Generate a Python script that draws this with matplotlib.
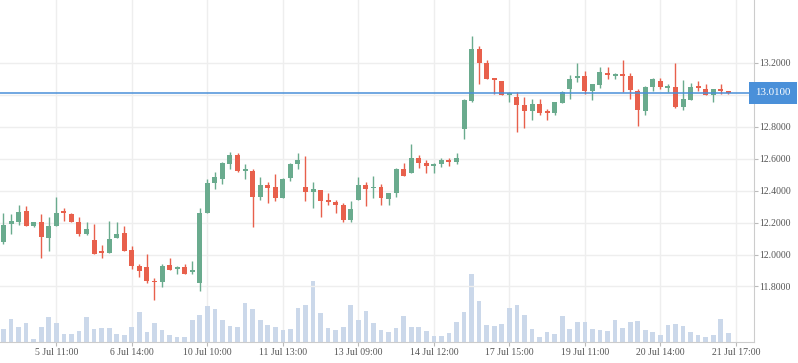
import numpy as np
import matplotlib
matplotlib.use("Agg")
import matplotlib.pyplot as plt

# OHLC values, one candle per entry
opens = [12.080, 12.193, 12.203, 12.272, 12.178, 12.203, 12.105, 12.180, 12.262, 12.253,
         12.203, 12.130, 12.090, 12.011, 12.009, 12.103, 12.134, 12.028, 11.928, 11.922,
         11.832, 11.830, 11.934, 11.910, 11.922, 11.893, 11.824, 12.261, 12.447, 12.472,
         12.566, 12.622, 12.525, 12.522, 12.359, 12.434, 12.422, 12.353, 12.478, 12.566,
         12.422, 12.391, 12.403, 12.334, 12.328, 12.309, 12.216, 12.341, 12.434, 12.414,
         12.422, 12.347, 12.384, 12.534, 12.509, 12.603, 12.572, 12.553, 12.566, 12.591,
         12.580, 12.784, 12.959, 13.284, 13.197, 13.097, 13.084, 12.997, 12.984, 12.934,
         12.897, 12.941, 12.886, 12.884, 12.947, 13.034, 13.103, 13.115, 13.022, 13.059,
         13.134, 13.118, 13.122, 13.116, 13.022, 12.897, 13.047, 13.084, 13.041, 13.047,
         12.922, 12.966, 13.053, 13.034, 12.997, 13.034, 13.022]
highs = [12.259, 12.253, 12.309, 12.303, 12.203, 12.253, 12.234, 12.359, 12.290, 12.259,
         12.234, 12.203, 12.190, 12.059, 12.209, 12.203, 12.178, 12.053, 11.940, 12.003,
         11.853, 11.940, 11.978, 11.928, 11.940, 11.959, 12.290, 12.472, 12.516, 12.578,
         12.641, 12.634, 12.566, 12.534, 12.484, 12.453, 12.503, 12.478, 12.572, 12.634,
         12.616, 12.453, 12.403, 12.384, 12.341, 12.322, 12.334, 12.484, 12.453, 12.491,
         12.441, 12.384, 12.541, 12.572, 12.691, 12.622, 12.591, 12.572, 12.603, 12.604,
         12.634, 12.972, 13.366, 13.303, 13.216, 13.103, 13.084, 13.015, 13.015, 12.984,
         12.972, 12.972, 12.909, 12.953, 13.022, 13.122, 13.197, 13.147, 13.066, 13.172,
         13.172, 13.134, 13.216, 13.134, 13.034, 13.053, 13.103, 13.103, 13.066, 13.197,
         13.091, 13.072, 13.084, 13.066, 13.034, 13.066, 13.025]
lows = [12.063, 12.130, 12.186, 12.180, 12.172, 11.978, 12.022, 12.180, 12.209, 12.203,
        12.116, 12.124, 12.005, 11.978, 12.009, 12.103, 12.022, 11.909, 11.859, 11.822,
        11.715, 11.799, 11.905, 11.880, 11.880, 11.880, 11.774, 12.261, 12.409, 12.441,
        12.534, 12.516, 12.472, 12.172, 12.341, 12.322, 12.334, 12.353, 12.459, 12.534,
        12.334, 12.291, 12.234, 12.309, 12.259, 12.203, 12.203, 12.341, 12.303, 12.353,
        12.309, 12.309, 12.359, 12.491, 12.509, 12.541, 12.509, 12.509, 12.547, 12.556,
        12.566, 12.722, 12.953, 13.066, 13.097, 13.003, 12.997, 12.953, 12.765, 12.790,
        12.840, 12.872, 12.840, 12.872, 12.947, 12.972, 13.078, 13.003, 12.966, 13.041,
        13.097, 13.097, 13.016, 12.972, 12.803, 12.872, 13.022, 13.034, 13.016, 12.916,
        12.903, 12.966, 13.022, 12.997, 12.953, 13.003, 13.005]
closes = [12.184, 12.209, 12.265, 12.180, 12.203, 12.111, 12.178, 12.259, 12.258, 12.203,
          12.130, 12.159, 12.005, 12.009, 12.097, 12.128, 12.022, 11.930, 11.897, 11.834,
          11.826, 11.928, 11.905, 11.915, 11.880, 11.901, 12.259, 12.447, 12.484, 12.572,
          12.622, 12.522, 12.527, 12.359, 12.434, 12.416, 12.353, 12.472, 12.566, 12.591,
          12.391, 12.409, 12.334, 12.330, 12.309, 12.216, 12.284, 12.434, 12.409, 12.416,
          12.353, 12.384, 12.534, 12.491, 12.603, 12.572, 12.553, 12.566, 12.591, 12.578,
          12.603, 12.965, 13.284, 13.197, 13.097, 13.093, 12.997, 13.009, 12.934, 12.897,
          12.941, 12.884, 12.884, 12.953, 13.015, 13.097, 13.115, 13.022, 13.066, 13.141,
          13.122, 13.120, 13.118, 13.028, 12.903, 13.047, 13.097, 13.047, 13.053, 12.922,
          12.972, 13.047, 13.041, 12.997, 13.034, 13.022, 13.010]
volumes = [13, 23, 15, 19, 3, 15, 25, 19, 8, 8,
           11, 25, 13, 14, 14, 8, 7, 15, 30, 10,
           19, 12, 7, 5, 5, 22, 27, 36, 33, 22,
           16, 15, 39, 33, 22, 17, 15, 12, 13, 34,
           37, 61, 29, 14, 12, 15, 37, 22, 31, 19,
           12, 10, 14, 26, 15, 15, 11, 6, 6, 9,
           20, 30, 68, 41, 17, 16, 18, 34, 37, 27,
           13, 5, 10, 8, 26, 13, 20, 20, 13, 12,
           11, 22, 14, 20, 21, 12, 10, 7, 17, 18,
           16, 10, 7, 5, 7, 23, 9]

tick_pos = [7, 17, 27, 37, 47, 57, 67, 77, 87, 97]
tick_labels = ["5 Jul 11:00", "6 Jul 14:00", "10 Jul 10:00", "11 Jul 13:00", "13 Jul 09:00",
               "14 Jul 12:00", "17 Jul 15:00", "19 Jul 11:00", "20 Jul 14:00", "21 Jul 17:00"]
price_ticks = [11.8, 12.0, 12.2, 12.4, 12.6, 12.8, 13.2]
last_price = 13.01

GREEN = "#6aab8e"
RED = "#e8604c"
VOL = "#cbd8ea"
BLUE = "#4a90d9"
TXT = "#555555"
plt.rcParams["font.family"] = ["Liberation Serif", "DejaVu Serif"]

fig = plt.figure(figsize=(7.98, 3.63), dpi=100)
ax = fig.add_axes([0, 21 / 363, 754 / 798, 342 / 363])
ax2 = ax.twinx()
ax.set_zorder(ax2.get_zorder() + 1)
ax.patch.set_visible(False)

x = np.arange(len(opens))
o = np.array(opens)
c = np.array(closes)
cols = [GREEN if cc >= oo else RED for oo, cc in zip(o, c)]

# volume underneath
ax2.bar(x, volumes, width=0.62, color=VOL, zorder=1)
ax2.set_ylim(0, 342)
ax2.set_yticks([])
for s in ax2.spines.values():
    s.set_visible(False)

# candles
ax.vlines(x, lows, highs, colors=cols, linewidth=1.0, zorder=3)
body_h = np.maximum(np.abs(c - o), 0.011)
ax.bar(x, body_h, bottom=np.minimum(o, c), width=0.66, color=cols, zorder=4)

ax.axhline(last_price, color=BLUE, linewidth=1.1, zorder=5)
ax.text(1.002, last_price, "%.4f" % last_price, transform=ax.get_yaxis_transform(),
        ha="left", va="center", color="white", fontsize=7.8,
        bbox=dict(boxstyle="square,pad=0.6", fc=BLUE, ec="none"), zorder=6, clip_on=False)

ax.set_xlim(-0.46, 99.4)
ax.set_ylim(11.453, 13.591)
ax.set_xticks(tick_pos)
ax.set_xticklabels(tick_labels)
ax.set_yticks(price_ticks)
ax.set_yticklabels(["%.4f" % p for p in price_ticks])
ax.yaxis.tick_right()
ax.tick_params(axis="both", colors="#bbbbbb", labelcolor=TXT, labelsize=7, length=3, pad=1)

for yv in price_ticks + [13.0]:
    ax.axhline(yv, color="#eeeeee", linewidth=1, zorder=0)
for xv in tick_pos:
    ax2.axvline(xv, color="#eeeeee", linewidth=1, zorder=0)

for s in ["top", "left"]:
    ax.spines[s].set_visible(False)
ax.spines["right"].set_color("#cccccc")
ax.spines["bottom"].set_color("#cccccc")

fig.savefig("out.png", dpi=100)
